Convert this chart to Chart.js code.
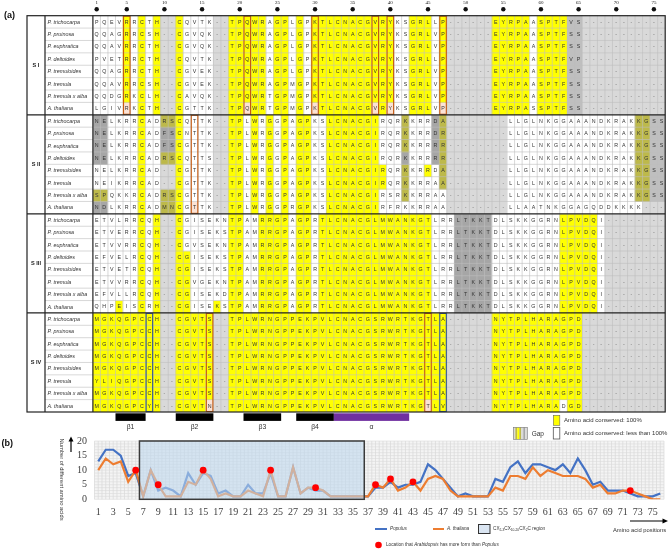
<!DOCTYPE html>
<html><head><meta charset="utf-8">
<script src="https://cdn.jsdelivr.net/npm/chart.js@4.4.1/dist/chart.umd.min.js"></script>
<style>
html,body{margin:0;padding:0;background:#fff;overflow:hidden}
#wrap{position:relative;width:668px;height:549px}
#wrap canvas{position:absolute;left:0;top:0}
</style></head><body>
<div id="wrap"><canvas id="ca" width="668" height="549"></canvas><canvas id="cb" width="668" height="549"></canvas></div>
<script>
// ---------------- DATA ----------------
const positions = [1,2,3,4,5,6,7,8,9,10,11,12,13,14,15,16,17,18,19,20,21,22,23,24,25,26,27,28,29,30,31,32,33,34,35,36,37,38,39,40,41,42,43,44,45,46,47,48,49,50,51,52,53,54,55,56,57,58,59,60,61,62,63,64,65,66,67,68,69,70,71,72,73,74,75,76];
const xTickLabels = [1,3,5,7,9,11,13,15,17,19,21,23,25,27,29,31,33,35,37,39,41,43,45,47,49,51,53,55,57,59,61,63,65,67,69,71,73,75];
const yTickValues = [0,5,10,15,20];
const rulerTicks = [1,5,10,15,20,25,30,35,40,45,50,55,60,65,70,75];

const populus  = [13,17,17,15,8,9,1,10,3,4, 3,1,9,5,9,8,2,3,1,1, 5,2,2,9,1,1,11,2,4,3, 3,1,1,1,1,1,1,4,4,6, 4,5,5,6,12,10,7,4,1,2, 1,1,1,7,6,11,13,9,12,12, 11,10,12,9,14,10,5,6,3,3, 3,2,1,1,1,2];
const thaliana = [10,14,12,13,6,10,1,10,5,1, 1,1,6,5,10,7,1,2,1,1, 3,2,1,10,1,1,11,2,4,4, 3,1,1,1,1,1,1,5,4,7, 3,4,6,3,7,8,7,3,1,1, 1,1,1,4,3,8,8,7,11,8, 10,9,8,8,8,7,4,5,2,2, 3,3,2,1,0,0];
const moreFormSites = [6,9,15,24,30,38,40,43,72];
const regionFirst = 7, regionLast = 36;

const speciesNames = ['P. trichocarpa','P. pruinosa','P. euphratica','P. deltoides','P. tremuloides','P. tremula','P. tremula x alba','A. thaliana'];
const groupNames = ['S I','S II','S III','S IV'];

const seqS1 = [
 'PQEVRRCTH--CQVTK--TPQWRAGPLGPKTLCNACGVRYKSGRLLP------EYRPAASPTFVS-----------',
 'QQAGRRCSH--CGVQK--TPQWRAGPLGPKTLCNACGVRYKSGRLVP------EYRPAASPTFSS-----------',
 'QQAVRRCTH--CGVQK--TPQWRAGPLGPKTLCNACGVRYKSGRLVP------EYRPAASPTFSS-----------',
 'PVETRRCTH--CQVTK--TPQWRAGPLGPKTLCNACGVRYKSGRLLP------EYRPAASPTFVP-----------',
 'QQAGRRCTH--CGVEK--TPQWRAGPLGPKTLCNACGVRYKSGRLVP------EYRPAASPTFSS-----------',
 'QQAVRRCSH--CGVEK--TPQWRAGPMGPKTLCNACGVRYKSGRLVP------EYRPAASPTFSS-----------',
 'QQDGRKCLH--CAVQK--TPQWRTGPMGPKTLCNACGVRYKSGRLVP------EYRPAASPTFSS-----------',
 'LGIVRKCTH--CGTTK--TPQWRTGPMGPKTLCNACGVRYKSGRLVP------EYRPASSPTFSS-----------'];
const seqS2 = [
 'NELKRRCADRSCQTTK--TPLWRGGPAGPKSLCNACGIRQRKKRRDA--------LLGLNKGGAAANDKRAKKGSS',
 'NELKRRCADFSCNTTK--TPLWRGGPAGPKSLCNACGIRQRKKRRDR--------LLGLNKGGAAANDKRAKKGSS',
 'NELKRRCADFSCGTTK--TPLWRGGPAGPKSLCNACGIRQRKKRRRR--------LLGLNKGGAAANDKRAKKGSS',
 'NELKRRCADRSCQTTS--TPLWRGGPAGPKSLCNACGIRQRKKRRRR--------LLGLNKGGAAANDKRAKKGSS',
 'NELKRRCAD--CGTTK--TPLWRGGPAGPKSLCNACGIRQRKKRRDA--------LLGLNKGGAAANDKRAKKGSS',
 'NEIKRRCAD--CGTTK--TPLWRGGPAGPKSLCNACGIRQRKKRRAA--------LLGLNKGGAAANDKRAKKGSS',
 'SPQKKRCADRSCGTTK--TPLWRGGPAGPKSLCNACGIRSRKKRRAA--------LLGLNKGGAAANDKRAKKGSS',
 'NDLKRRCADMNCGTTK--TPLWRGGPRGPKSLCNACGIRFRKKRRAA--------LLAATNKGGAGQDDKKKK---'];
const seqS3 = [
 'ETVLRRCQH--CGISEKNTPAMRRGPAGPRTLCNACGLMWANKGTLRRLTKKTDLSKKGGRNLPVDQI--------',
 'ETVERRCQH--CGISEKSTPAMRRGPAGPRTLCNACGLMWANKGTLRRLTKKTDLSKKGGRNLPVDQI--------',
 'ETVVRRCQH--CGVSEKNTPAMRRGPAGPRTLCNACGLMWANKGTLRRLTKKTDLSKKGGRNLPVDQI--------',
 'EFVELRCQH--CGISEKSTPAMRRGPAGPRTLCNACGLMWANKGTLRRLTKKTDLSKKGGRNLPVDQI--------',
 'ETVETRCQH--CGISEKSTPAMRRGPAGPRTLCNACGLMWANKGTLRRLTKKTDLSKKGGRNLPVDQI--------',
 'ETVVRRCQH--CGVGEKNTPAMRRGPAGPRTLCNACGLMWANKGTLRRLTKKTDLSKKGGRNLPVDQI--------',
 'EFVLLRCQH--CGISEKDTPAMRRGPAGPRTLCNACGLMWANKGTLRRLTKKTDLSKKGGRNLPVDQI--------',
 'QHPEISCRH--CGISEKSTPAMRRGPAGPRTLCNACGLMWANKGTLRRLTKKTDLSKKGGRNLPVDQI--------'];
const seqS4 = [
 'MGKQGPCCH--CGVTS--TPLWRNGPPEKPVLCNACGSRWRTKGTLA------NYTPLHARAGPD-----------',
 'MGKQGPCCH--CGVTS--TPLWRNGPPEKPVLCNACGSRWRTKGTLA------NYTPLHARAGPD-----------',
 'MGKQGPCCH--CGVTS--TPLWRNGPPEKPVLCNACGSRWRTKGTLA------NYTPLHARAGPD-----------',
 'MGKQGPCCH--CGVTS--TPLWRNGPPEKPVLCNACGSRWRTKGTLA------NYTPLHARAGPD-----------',
 'MGKQGPCCH--CGVTS--TPLWRNGPPEKPVLCNACGSRWRTKGTLA------NYTPLHARAGPD-----------',
 'YLIQGPCCH--CGVTS--TPLWRNGPPEKPVLCNACGSRWRTKGTLA------NYTPLHARAGPD-----------',
 'MGKQGPCCH--CGVTS--TPLWRNGPPEKPVLCNACGSRWRTKGTLA------NYTPLHARAGPD-----------',
 'MGKQGPCYH--CGVTN--TPLWRNGPPEKPVLCNACGSRWRTKGTLV------NYTPLHARADGD-----------'];

// cell classes: y conserved 100%, w conserved <100%, g gap, d grey, o olive, p A. thaliana divergent, s silver
const clsS1 = [
 'wwwwywywyggywwwwggyyyyywyywywyyyyyyyyyyywwyyywyggggggyyyyywyyyyssggggggggggg',
 'wwwwywywyggywwwwggyyyyywyywywyyyyyyyyyyywwyyywyggggggyyyyywyyyyssggggggggggg',
 'wwwwywywyggywwwwggyyyyywyywywyyyyyyyyyyywwyyywyggggggyyyyywyyyyssggggggggggg',
 'wwwwywywyggywwwwggyyyyywyywywyyyyyyyyyyywwyyywyggggggyyyyywyyyyssggggggggggg',
 'wwwwywywyggywwwwggyyyyywyywywyyyyyyyyyyywwyyywyggggggyyyyywyyyyssggggggggggg',
 'wwwwywywyggywwwwggyyyyywyywywyyyyyyyyyyywwyyywyggggggyyyyywyyyyssggggggggggg',
 'wwwwywywyggywwwwggyyyyywyywywyyyyyyyyyyywwyyywyggggggyyyyywyyyyssggggggggggg',
 'wwwwpwywyggywwwwggyypyywyywywpyyyyyyypypwwyyywpggggggyyyyywyyyyssggggggggggg'];
const clsS2 = [
 'ddwwwwywwooywwwwggyywywywywyywwyyyyyyywwwowwwdoggggggggwwwwwwwwwwwwwwwwwooss',
 'ddwwwwywwddywwwwggyywywywywyywwyyyyyyywwwowwwdoggggggggwwwwwwwwwwwwwwwwwooss',
 'ddwwwwywwddywwwwggyywywywywyywwyyyyyyywwwowwwdoggggggggwwwwwwwwwwwwwwwwwooss',
 'ddwwwwywwooywwwwggyywywywywyywwyyyyyyywwwdwwwdoggggggggwwwwwwwwwwwwwwwwwooss',
 'wwwwwwywwggywwwwggyywywywywyywwyyyyyyyywwowwywoggggggggwwwwwwwwwwwwwwwwwooss',
 'wwwwwwywwggywwwwggyywywywywyywwyyyyyyyywwowwwwoggggggggwwwwwwwwwwwwwwwwwooss',
 'oowwwwywwooywwwwggyywywywywyywwyyyyyyywwwowwwwwggggggggwwwwwwwwwwwwwwwwwooss',
 'ddwwwwywwooywpwwggyywywywywyywwyyyyyyywwwwwwwwwggggggggwwwwwwwwwwwwwwwwwwggg'];
const clsS3 = [
 'wwwwwwywyggywwwwwwyywwyyyywyywyyyyyyyyyyyyyyywwwdddddwwwwwwwwwyyyyywgggggggg',
 'wwwwwwywyggywwwwwwyywwyyyywyywyyyyyyyyyyyyyyywwwdddddwwwwwwwwwyyyyywgggggggg',
 'wwwwwwywyggywwwwwwyywwyyyywyywyyyyyyyyyyyyyyywwwdddddwwwwwwwwwyyyyywgggggggg',
 'wwwwwwywyggyywwwwwyywwyyyywyywyyyyyyyyyyyyyyywwwdddddwwwwwwwwwyyyyywgggggggg',
 'wwwwwwywyggyywwwwwyywwyyyywyywyyyyyyyyyyyyyyywwwdddddwwwwwwwwwyyyyywgggggggg',
 'wwwwwwywyggyywwwwwyywwyyyywyywyyyyyyyyyyyyyyywwwdddddwwwwwwwwwyyyyywgggggggg',
 'wwwwwwywyggyywwwwwyywwyyyywyywyyyyyyyyyyyyyyywwwdddddwwwwwwwwwyyyyywgggggggg',
 'wwwywwywyggyywwwywyywwyyyywyywyyyyyyyyyyyyyyywwwdddddwwwwwwwwwyyyyywgggggggg'];
const clsS4 = [
 'yyyyyyyyyggyyyyyggyyyyyyyyyyyyyyyyyyyyyyyyyyyyyggggggyyyyyyyyyyyyggggggggggg',
 'yyyyyyyyyggyyyyyggyyyyyyyyyyyyyyyyyyyyyyyyyyyyyggggggyyyyyyyyyyyyggggggggggg',
 'yyyyyyyyyggyyyyyggyyyyyyyyyyyyyyyyyyyyyyyyyyyyyggggggyyyyyyyyyyyyggggggggggg',
 'yyyyyyyyyggyyyyyggyyyyyyyyyyyyyyyyyyyyyyyyyyyyyggggggyyyyyyyyyyyyggggggggggg',
 'yyyyyyyyyggyyyyyggyyyyyyyyyyyyyyyyyyyyyyyyyyyyyggggggyyyyyyyyyyyyggggggggggg',
 'yyyyyyyyyggyyyyyggyyyyyyyyyyyyyyyyyyyyyyyyyyyyyggggggyyyyyyyyyyyyggggggggggg',
 'yyyyyyyyyggyyyyyggyyyyyyyyyyyyyyyyyyyyyyyyyyyyyggggggyyyyyyyyyyyyggggggggggg',
 'yyyyyyyyyggyyyypggyyyyyyyyyyyyyyyyyyyyyyyyyypyyggggggyyyyyyyyywyyggggggggggg'];

const orangeBoxCols = [[5,21,30,38,40,47],[14],[],[16,45]];
const blueBoxCols = [[],[],[],[8,47]];

const structureNames = ['β1','β2','β3','β4','α'];
const structureFirst = [4,12,21,28,33];
const structureLast  = [7,16,25,32,42];
const structureKind  = ['strand','strand','strand','strand','helix'];

// ---------------- STYLE ----------------
const CELL_COLOURS = {y:'#FFFF00', w:'#FFFFFF', g:'#D9D9D9', d:'#A6A6A6', o:'#BDB94A', p:'#FBE2D5', s:'#BFBFBF'};
const SANS = '"Liberation Sans", Arial, sans-serif';
const SERIF = '"Liberation Serif", "Times New Roman", serif';
Chart.defaults.font.family = SANS;

const seqGroups = [seqS1, seqS2, seqS3, seqS4];
const clsGroups = [clsS1, clsS2, clsS3, clsS4];
const rowsSeq = [].concat(...seqGroups);
const rowsCls = [].concat(...clsGroups);
rowsSeq.forEach((s,i)=>{ if(s.length!==76) throw new Error('seq row '+i+' len '+s.length); });
rowsCls.forEach((s,i)=>{ if(s.length!==76) throw new Error('cls row '+i+' len '+s.length); });

function richText(ctx, x, y, parts, size, family){
  let cx = x;
  parts.forEach(p=>{
    const sz = p.sub ? size*0.7 : size;
    ctx.font = (p.italic?'italic ':'') + sz + 'px ' + family;
    ctx.fillText(p.t, cx, p.sub ? y + size*0.3 : y);
    cx += ctx.measureText(p.t).width;
  });
  return cx;
}

// ---------------- PANEL A ----------------
const panelAPlugin = {
  id:'panelA',
  afterDatasetsDraw(chart){
    const {ctx, chartArea:ca, scales:{x,y}} = chart;
    const step = x.getPixelForValue(1) - x.getPixelForValue(0);
    const colEdge = c => x.getPixelForValue(c-1) - step/2;
    const rowEdge = r => y.getPixelForValue(r);
    const rowH = rowEdge(1) - rowEdge(0);
    const frameLeft = 27, nameDiv = 45;
    ctx.save();
    ctx.strokeStyle = '#BDBDBD'; ctx.lineWidth = 0.6;
    ctx.beginPath();
    for(let c=2;c<=76;c++){ const px=colEdge(c); ctx.moveTo(px,ca.top); ctx.lineTo(px,ca.bottom); }
    for(let r=1;r<32;r++){ if(r%8===0) continue; const py=rowEdge(r); ctx.moveTo(nameDiv,py); ctx.lineTo(ca.right,py); }
    ctx.stroke();
    ctx.textAlign='center'; ctx.textBaseline='middle';
    ctx.font = '5.3px ' + SANS;
    rowsSeq.forEach((seq,r)=>{
      const meta = chart.getDatasetMeta(r);
      meta.data.forEach((el,c)=>{
        const ch = seq.charAt(c);
        ctx.fillStyle = ch==='-' ? '#777' : '#333';
        ctx.fillText(ch, el.x, (el.y+el.base)/2 + 0.3);
      });
    });
    ctx.lineWidth = 1.1;
    orangeBoxCols.forEach((cols,g)=>{
      ctx.strokeStyle = '#C55A11';
      cols.forEach(c=>ctx.strokeRect(colEdge(c)+0.5, rowEdge(g*8)+0.5, step-1, rowH*8-1));
    });
    blueBoxCols.forEach((cols,g)=>{
      ctx.strokeStyle = '#2F5597';
      cols.forEach(c=>ctx.strokeRect(colEdge(c)+0.5, rowEdge(g*8)+0.5, step-1, rowH*8-1));
    });
    ctx.strokeStyle = '#222'; ctx.lineWidth = 1.2;
    ctx.strokeRect(frameLeft, ca.top, ca.right-frameLeft, ca.bottom-ca.top);
    ctx.beginPath();
    ctx.moveTo(nameDiv, ca.top); ctx.lineTo(nameDiv, ca.bottom);
    ctx.moveTo(ca.left, ca.top); ctx.lineTo(ca.left, ca.bottom);
    [8,16,24].forEach(r=>{ const py=rowEdge(r); ctx.moveTo(frameLeft,py); ctx.lineTo(ca.right,py); });
    ctx.stroke();
    ctx.textAlign='left'; ctx.fillStyle='#333';
    ctx.font = 'italic 5.4px ' + SANS;
    for(let g=0; g<4; g++){
      speciesNames.forEach((n,i)=>{
        ctx.fillText(n, nameDiv+2.5, (rowEdge(g*8+i)+rowEdge(g*8+i+1))/2 + 0.3);
      });
    }
    ctx.textAlign='center'; ctx.font = 'bold 5.6px ' + SANS; ctx.fillStyle='#222';
    groupNames.forEach((n,g)=>ctx.fillText(n, 36, (rowEdge(g*8)+rowEdge(g*8+8))/2));
    ctx.restore();
  },
  afterDraw(chart){
    const {ctx, scales:{x}} = chart;
    const step = x.getPixelForValue(1) - x.getPixelForValue(0);
    const colEdge = c => x.getPixelForValue(c-1) - step/2;
    ctx.save();
    ctx.fillStyle='#111'; ctx.textAlign='center'; ctx.textBaseline='middle';
    ctx.font = '5px ' + SERIF;
    rulerTicks.forEach(p=>{
      const px = x.getPixelForValue(p-1);
      ctx.fillText(String(p), px, 3);
      ctx.beginPath(); ctx.arc(px, 9.3, 2.2, 0, Math.PI*2); ctx.fill();
    });
    ctx.font = 'bold 9px ' + SANS; ctx.textAlign='left';
    ctx.fillText('(a)', 4, 15.5);
    const barTop = 413.3, barH = 7.6;
    structureNames.forEach((n,i)=>{
      const l = colEdge(structureFirst[i]), r = colEdge(structureLast[i]+1);
      ctx.fillStyle = structureKind[i]==='helix' ? '#7030A0' : '#000';
      ctx.fillRect(l, barTop, r-l, barH);
      ctx.fillStyle = '#333'; ctx.textAlign='center';
      ctx.font = '6.8px ' + SANS;
      ctx.fillText(n, (l+r)/2, 427);
    });
    ctx.textAlign='left';
    ctx.fillStyle='#FFFF00'; ctx.fillRect(553.3, 415.3, 6.5, 10);
    ctx.strokeStyle='#666'; ctx.lineWidth=0.6; ctx.strokeRect(553.3, 415.3, 6.5, 10);
    ctx.fillStyle='#fff'; ctx.fillRect(553.3, 427.5, 6.5, 11.5);
    ctx.strokeStyle='#555'; ctx.lineWidth=0.8; ctx.strokeRect(553.3, 427.5, 6.5, 11.5);
    const gx=513.3, gy=427.3, gw=14, gh=12;
    const stripes=['#D9D9D9','#BDB94A','#FFFF00','#BDB94A','#D9D9D9','#A6A6A6','#D9D9D9'];
    stripes.forEach((c,i)=>{ ctx.fillStyle=c; ctx.fillRect(gx+i*gw/stripes.length, gy, gw/stripes.length, gh); });
    ctx.strokeStyle='#777'; ctx.lineWidth=0.6; ctx.strokeRect(gx,gy,gw,gh);
    ctx.fillStyle='#333'; ctx.font='6px ' + SANS;
    ctx.fillText('Amino acid conserved: 100%', 564, 420.5);
    ctx.fillText('Amino acid conserved: less than 100%', 564, 433.5);
    ctx.font='6.5px ' + SANS;
    ctx.fillText('Gap', 531.7, 434);
    ctx.restore();
  }
};

const cellDatasets = rowsSeq.map((seq,r)=>({
  label: 'row'+r,
  data: positions.map(()=>1),
  backgroundColor: c => CELL_COLOURS[rowsCls[r].charAt(c.dataIndex)] || '#fff',
  borderWidth: 0,
  barPercentage: 1, categoryPercentage: 1,
  stack: 'alignment'
}));

new Chart(document.getElementById('ca'), {
  type:'bar',
  data:{ labels: positions, datasets: cellDatasets },
  options:{
    responsive:false, animation:false, events:[], devicePixelRatio:1,
    layout:{ padding:{ left:92.9, right:2.8, top:15.7, bottom:137 } },
    plugins:{ legend:{display:false}, tooltip:{enabled:false} },
    scales:{
      x:{ stacked:true, display:false, offset:true },
      y:{ stacked:true, display:false, min:0, max:32, reverse:true }
    }
  },
  plugins:[panelAPlugin]
});

// ---------------- PANEL B ----------------
const panelBPlugin = {
  id:'panelB',
  beforeDatasetsDraw(chart){
    const {ctx, chartArea:ca, scales:{x,y}} = chart;
    ctx.save();
    ctx.fillStyle='#F4F4F4'; ctx.fillRect(ca.left, ca.top, ca.width, ca.height);
    ctx.lineWidth=0.6;
    ctx.strokeStyle='#D4D4D4';
    ctx.beginPath();
    for(let v=0.5; v<=76.5; v+=0.5){ const px=x.getPixelForValue(v); ctx.moveTo(px,ca.top); ctx.lineTo(px,ca.bottom); }
    ctx.stroke();
    ctx.strokeStyle='#DADADA';
    ctx.beginPath();
    for(let v=0; v<=20; v+=1){ const py=y.getPixelForValue(v); ctx.moveTo(ca.left,py); ctx.lineTo(ca.right,py); }
    ctx.stroke();
    ctx.restore();
  },
  afterDatasetDraw(chart, args){
    if(args.index!==0) return;
    const {ctx, scales:{x,y}} = chart;
    const l = x.getPixelForValue(regionFirst-0.5), r = x.getPixelForValue(regionLast+0.5);
    const t = y.getPixelForValue(20), b = y.getPixelForValue(0);
    ctx.save();
    ctx.fillStyle='rgba(189,215,238,0.58)';
    ctx.fillRect(l,t,r-l,b-t);
    ctx.strokeStyle='#3A3A3A'; ctx.lineWidth=1.5;
    ctx.strokeRect(l,t,r-l,b-t);
    ctx.restore();
  },
  afterDraw(chart){
    const {ctx} = chart;
    ctx.save();
    ctx.fillStyle='#111'; ctx.textBaseline='middle'; ctx.textAlign='left';
    ctx.font='bold 9px ' + SANS;
    ctx.fillText('(b)', 1.5, 444);
    ctx.save();
    ctx.translate(62, 479.5); ctx.rotate(Math.PI/2);
    ctx.textAlign='center'; ctx.fillStyle='#333'; ctx.font='5.8px ' + SANS;
    ctx.fillText('Number of different amino acids', 0, 0);
    ctx.restore();
    ctx.strokeStyle='#000'; ctx.fillStyle='#000'; ctx.lineWidth=1.2;
    ctx.beginPath(); ctx.moveTo(71, 452); ctx.lineTo(71, 440); ctx.stroke();
    ctx.beginPath(); ctx.moveTo(71, 436.5); ctx.lineTo(68.5, 441.5); ctx.lineTo(73.5, 441.5); ctx.closePath(); ctx.fill();
    ctx.beginPath(); ctx.moveTo(630, 521); ctx.lineTo(663, 521); ctx.stroke();
    ctx.beginPath(); ctx.moveTo(668, 521); ctx.lineTo(662.5, 518.5); ctx.lineTo(662.5, 523.5); ctx.closePath(); ctx.fill();
    ctx.fillStyle='#333'; ctx.font='5.8px ' + SANS;
    ctx.fillText('Amino acid positions', 613, 530);
    const ly = 529, fs = 4.7;
    ctx.lineWidth=2;
    ctx.strokeStyle='#4472C4'; ctx.beginPath(); ctx.moveTo(375,ly); ctx.lineTo(387,ly); ctx.stroke();
    ctx.fillStyle='#333';
    richText(ctx, 390, ly, [{t:'Populus', italic:true}], fs, SANS);
    ctx.strokeStyle='#ED7D31'; ctx.beginPath(); ctx.moveTo(433,ly); ctx.lineTo(444,ly); ctx.stroke();
    richText(ctx, 447, ly, [{t:'A. thaliana', italic:true}], fs, SANS);
    ctx.fillStyle='#DAE5F2'; ctx.fillRect(478.5, 524.5, 11.5, 9);
    ctx.strokeStyle='#333'; ctx.lineWidth=1; ctx.strokeRect(478.5, 524.5, 11.5, 9);
    ctx.fillStyle='#333';
    richText(ctx, 493, ly, [{t:'CX'},{t:'2-3',sub:true},{t:'CX'},{t:'10-20',sub:true},{t:'CX'},{t:'2',sub:true},{t:'C region'}], fs, SANS);
    ctx.fillStyle='#FF0000'; ctx.beginPath(); ctx.arc(378.5, 545, 3.3, 0, Math.PI*2); ctx.fill();
    ctx.fillStyle='#333';
    richText(ctx, 386, 545, [{t:'Location that '},{t:'Arabidopsis',italic:true},{t:' has more form than '},{t:'Populus',italic:true}], fs, SANS);
    ctx.restore();
  }
};

new Chart(document.getElementById('cb'), {
  type:'line',
  data:{ datasets:[
    { label:'A. thaliana', data: positions.map((p,i)=>({x:p, y:thaliana[i]})), borderColor:'#ED7D31', borderWidth:2.2, pointRadius:0, tension:0, order:2 },
    { label:'Populus', data: positions.map((p,i)=>({x:p, y:populus[i]})), borderColor:'#4472C4', borderWidth:2.2, pointRadius:0, tension:0, order:3 },
    { label:'Location that Arabidopsis has more form than Populus', data: moreFormSites.map(p=>({x:p, y:thaliana[p-1]})), showLine:false, pointRadius:3.4, pointBackgroundColor:'#FF0000', pointBorderWidth:0, order:1 }
  ]},
  options:{
    responsive:false, animation:false, events:[], devicePixelRatio:1,
    layout:{ padding:{ left:64.5, right:3.5, top:441, bottom:29.7 } },
    plugins:{ legend:{display:false}, tooltip:{enabled:false} },
    scales:{
      x:{ type:'linear', min:0.5, max:76.5,
          grid:{display:false, drawTicks:false}, border:{display:false},
          afterBuildTicks: s=>{ s.ticks = xTickLabels.map(v=>({value:v})); },
          afterFit: s=>{ s.height = 20; },
          ticks:{ font:{family:SERIF, size:10}, color:'#404040', padding:7, maxRotation:0, autoSkip:false } },
      y:{ min:0, max:20,
          grid:{display:false, drawTicks:false}, border:{display:false},
          afterBuildTicks: s=>{ s.ticks = yTickValues.map(v=>({value:v})); },
          afterFit: s=>{ s.width = 30; },
          ticks:{ font:{family:SERIF, size:10}, color:'#404040', padding:7.5, autoSkip:false } }
    }
  },
  plugins:[panelBPlugin]
});
</script></body></html>
